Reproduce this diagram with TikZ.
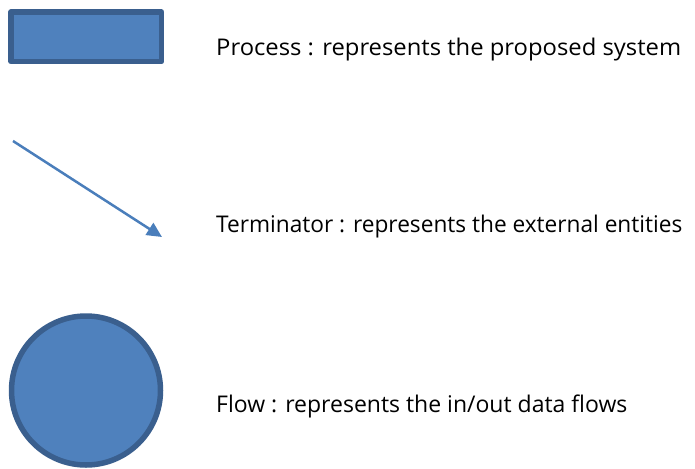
\documentclass[tikz,border=0pt]{standalone}
\usepackage{fontspec}
\setmainfont{Open Sans}
\usetikzlibrary{arrows.meta}
\definecolor{shapefill}{HTML}{4F81BD}
\definecolor{shapeedge}{HTML}{3A5F8E}
\definecolor{arrowcol}{HTML}{4A7EBB}
\tikzset{
  shapebox/.style={fill=shapefill,draw=shapeedge,line width=5.5pt,line join=round},
  legendtext/.style={anchor=base west,inner sep=0pt,font=\fontsize{23}{28}\selectfont,text=black},
  flowarrow/.style={draw=arrowcol,line width=2.5pt,-{Triangle[length=15pt,width=14pt]}}
}
\begin{document}
\begin{tikzpicture}[x=1pt,y=-1pt]
\useasboundingbox (0,0) rectangle (695,468);
% process rectangle
\draw[shapebox] (11,12) rectangle (161.5,61.5);
\node[legendtext] (ptext) at (216,56) {\scalebox{1.035}[1]{Process : represents the proposed system}};
% arrow
\coordinate (astart) at (13,141);
\coordinate (aend) at (162,237);
\draw[flowarrow] (astart) -- (aend);
\node[legendtext] (ttext) at (216,232) {\scalebox{0.985}[1]{Terminator : represents the external entities}};
% circle
\draw[shapebox] (86,390.5) circle[radius=74.5];
\node[legendtext] (ftext) at (216,412) {Flow : represents the in/out data flows};
\end{tikzpicture}
\end{document}
